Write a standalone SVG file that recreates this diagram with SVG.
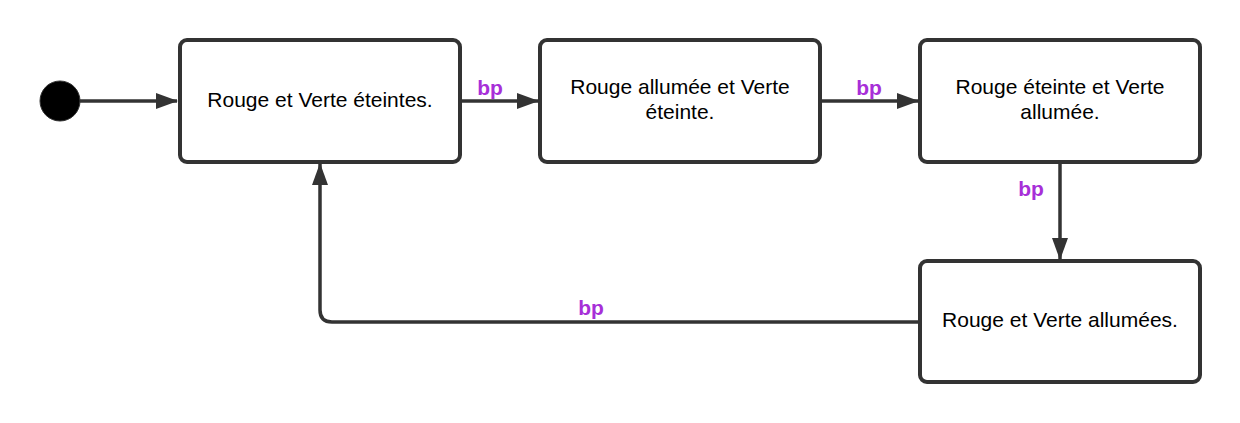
<svg xmlns="http://www.w3.org/2000/svg" width="1240" height="423" viewBox="0 0 1240 423">
<style>
.box{fill:#fff;stroke:#333;stroke-width:4}
.t{font-family:"Liberation Sans",Arial,sans-serif;font-size:21px;fill:#000;text-anchor:middle}
.lbl{font-family:"Liberation Sans",Arial,sans-serif;font-size:21px;font-weight:bold;fill:#a72fd8;text-anchor:middle}
.edge{fill:none;stroke:#333;stroke-width:3.5}
</style>
<defs>
<marker id="ah" markerUnits="userSpaceOnUse" markerWidth="22" markerHeight="16" refX="21" refY="8" orient="auto">
<path d="M0,0 L22,8 L0,16 Z" fill="#333"/>
</marker>
</defs>
<rect width="1240" height="423" fill="#fff"/>
<g id="start"><circle cx="60" cy="101" r="20" fill="#000" stroke="#333" stroke-width="1"/></g>
<g id="n1"><rect class="box" x="180" y="40" width="280" height="122" rx="7"/><text class="t" x="320" y="107">Rouge et Verte éteintes.</text></g>
<g id="n2"><rect class="box" x="540" y="40" width="280" height="122" rx="7"/><text class="t" x="680" y="94">Rouge allumée et Verte</text><text class="t" x="680" y="119">éteinte.</text></g>
<g id="n3"><rect class="box" x="920" y="40" width="280" height="122" rx="7"/><text class="t" x="1060" y="94">Rouge éteinte et Verte</text><text class="t" x="1060" y="119">allumée.</text></g>
<g id="n4"><rect class="box" x="920" y="261" width="280" height="121" rx="7"/><text class="t" x="1060" y="327">Rouge et Verte allumées.</text></g>
<g id="edges">
<path class="edge" d="M80,101 H177" marker-end="url(#ah)"/>
<path class="edge" d="M462,101 H538" marker-end="url(#ah)"/>
<text class="lbl" x="490" y="95">bp</text>
<path class="edge" d="M822,101 H918" marker-end="url(#ah)"/>
<text class="lbl" x="869" y="95">bp</text>
<path class="edge" d="M1060,164 V259" marker-end="url(#ah)"/>
<text class="lbl" x="1031" y="196">bp</text>
<path class="edge" d="M918,322 H332 Q320,322 320,310 V164" marker-end="url(#ah)"/>
<text class="lbl" x="591" y="315">bp</text>
</g>
</svg>
